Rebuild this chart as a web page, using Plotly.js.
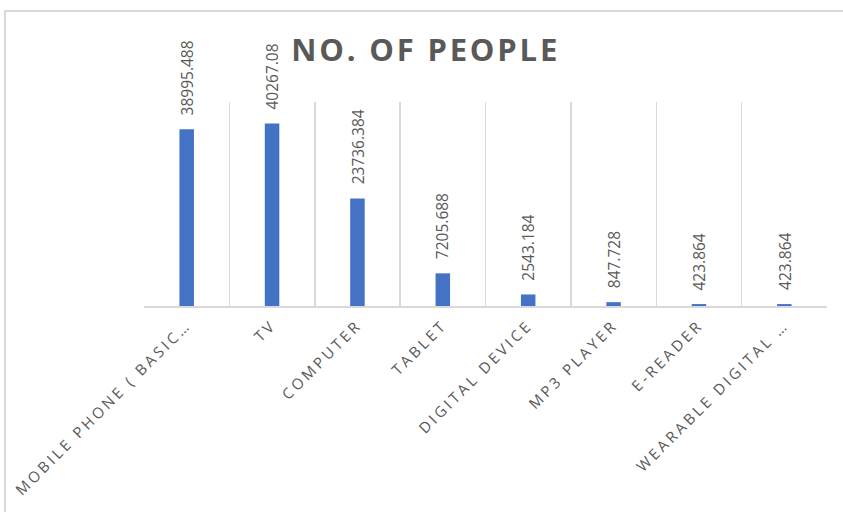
<!DOCTYPE html>
<html>
<head>
<meta charset="utf-8">
<script src="https://cdn.plot.ly/plotly-3.0.1.min.js"></script>
<style>
  html, body { margin: 0; padding: 0; background: #ffffff; overflow: hidden; }
  #frame { position: absolute; left: 4px; top: 10px; width: 900px; height: 600px;
           border-left: 2px solid #d9d9d9; border-top: 2px solid #d9d9d9; }
  #chart { position: absolute; left: 0; top: 0; width: 843px; height: 512px; }
  #chart .gtitle { letter-spacing: 2.8px; }
  #chart .xtick text { letter-spacing: 3.1px; }
</style>
</head>
<body>
<div id="frame"></div>
<div id="chart"></div>
<script>
const categories = ["MOBILE PHONE ( BASIC\u2026", "TV", "COMPUTER", "TABLET", "DIGITAL DEVICE", "MP3 PLAYER", "E-READER", "WEARABLE DIGITAL \u2026"];
const values = [38995.488, 40267.08, 23736.384, 7205.688, 2543.184, 847.728, 423.864, 423.864];
const valueLabels = ["38995.488", "40267.08", "23736.384", "7205.688", "2543.184", "847.728", "423.864", "423.864"];

const grey = "#595959";

const trace = {
  type: "bar",
  x: categories,
  y: values,
  width: 0.17,
  marker: { color: "#4472C4" },
  hoverinfo: "x+y"
};

const annotations = categories.map((c, i) => ({
  x: c, y: values[i], xref: "x", yref: "y",
  text: valueLabels[i],
  showarrow: false,
  textangle: -90,
  yanchor: "bottom",
  xanchor: "center",
  yshift: 12,
  font: { family: "Open Sans, sans-serif", size: 15.5, color: grey }
}));

const layout = {
  width: 843, height: 512,
  margin: { l: 144, r: 16, t: 102, b: 206 },
  paper_bgcolor: "rgba(0,0,0,0)",
  plot_bgcolor: "rgba(0,0,0,0)",
  showlegend: false,
  title: {
    text: "<b>NO. OF PEOPLE</b>",
    xref: "container", yref: "container",
    x: 0.505, y: 0.902, xanchor: "center", yanchor: "middle",
    font: { family: "Open Sans, sans-serif", size: 31, color: grey }
  },
  xaxis: {
    type: "category",
    tickson: "boundaries",
    showgrid: true,
    gridcolor: "#d9d9d9",
    gridwidth: 1.5,
    ticks: "",
    showline: true,
    linecolor: "#d9d9d9",
    linewidth: 1.5,
    tickangle: -45,
    ticklabelstandoff: 3,
    tickfont: { family: "Open Sans, sans-serif", size: 15, color: grey },
    fixedrange: true
  },
  yaxis: {
    range: [0, 45000],
    visible: false,
    showgrid: false,
    zeroline: false,
    fixedrange: true
  },
  annotations: annotations
};

Plotly.newPlot("chart", [trace], layout, { displayModeBar: false, staticPlot: true });
</script>
</body>
</html>
